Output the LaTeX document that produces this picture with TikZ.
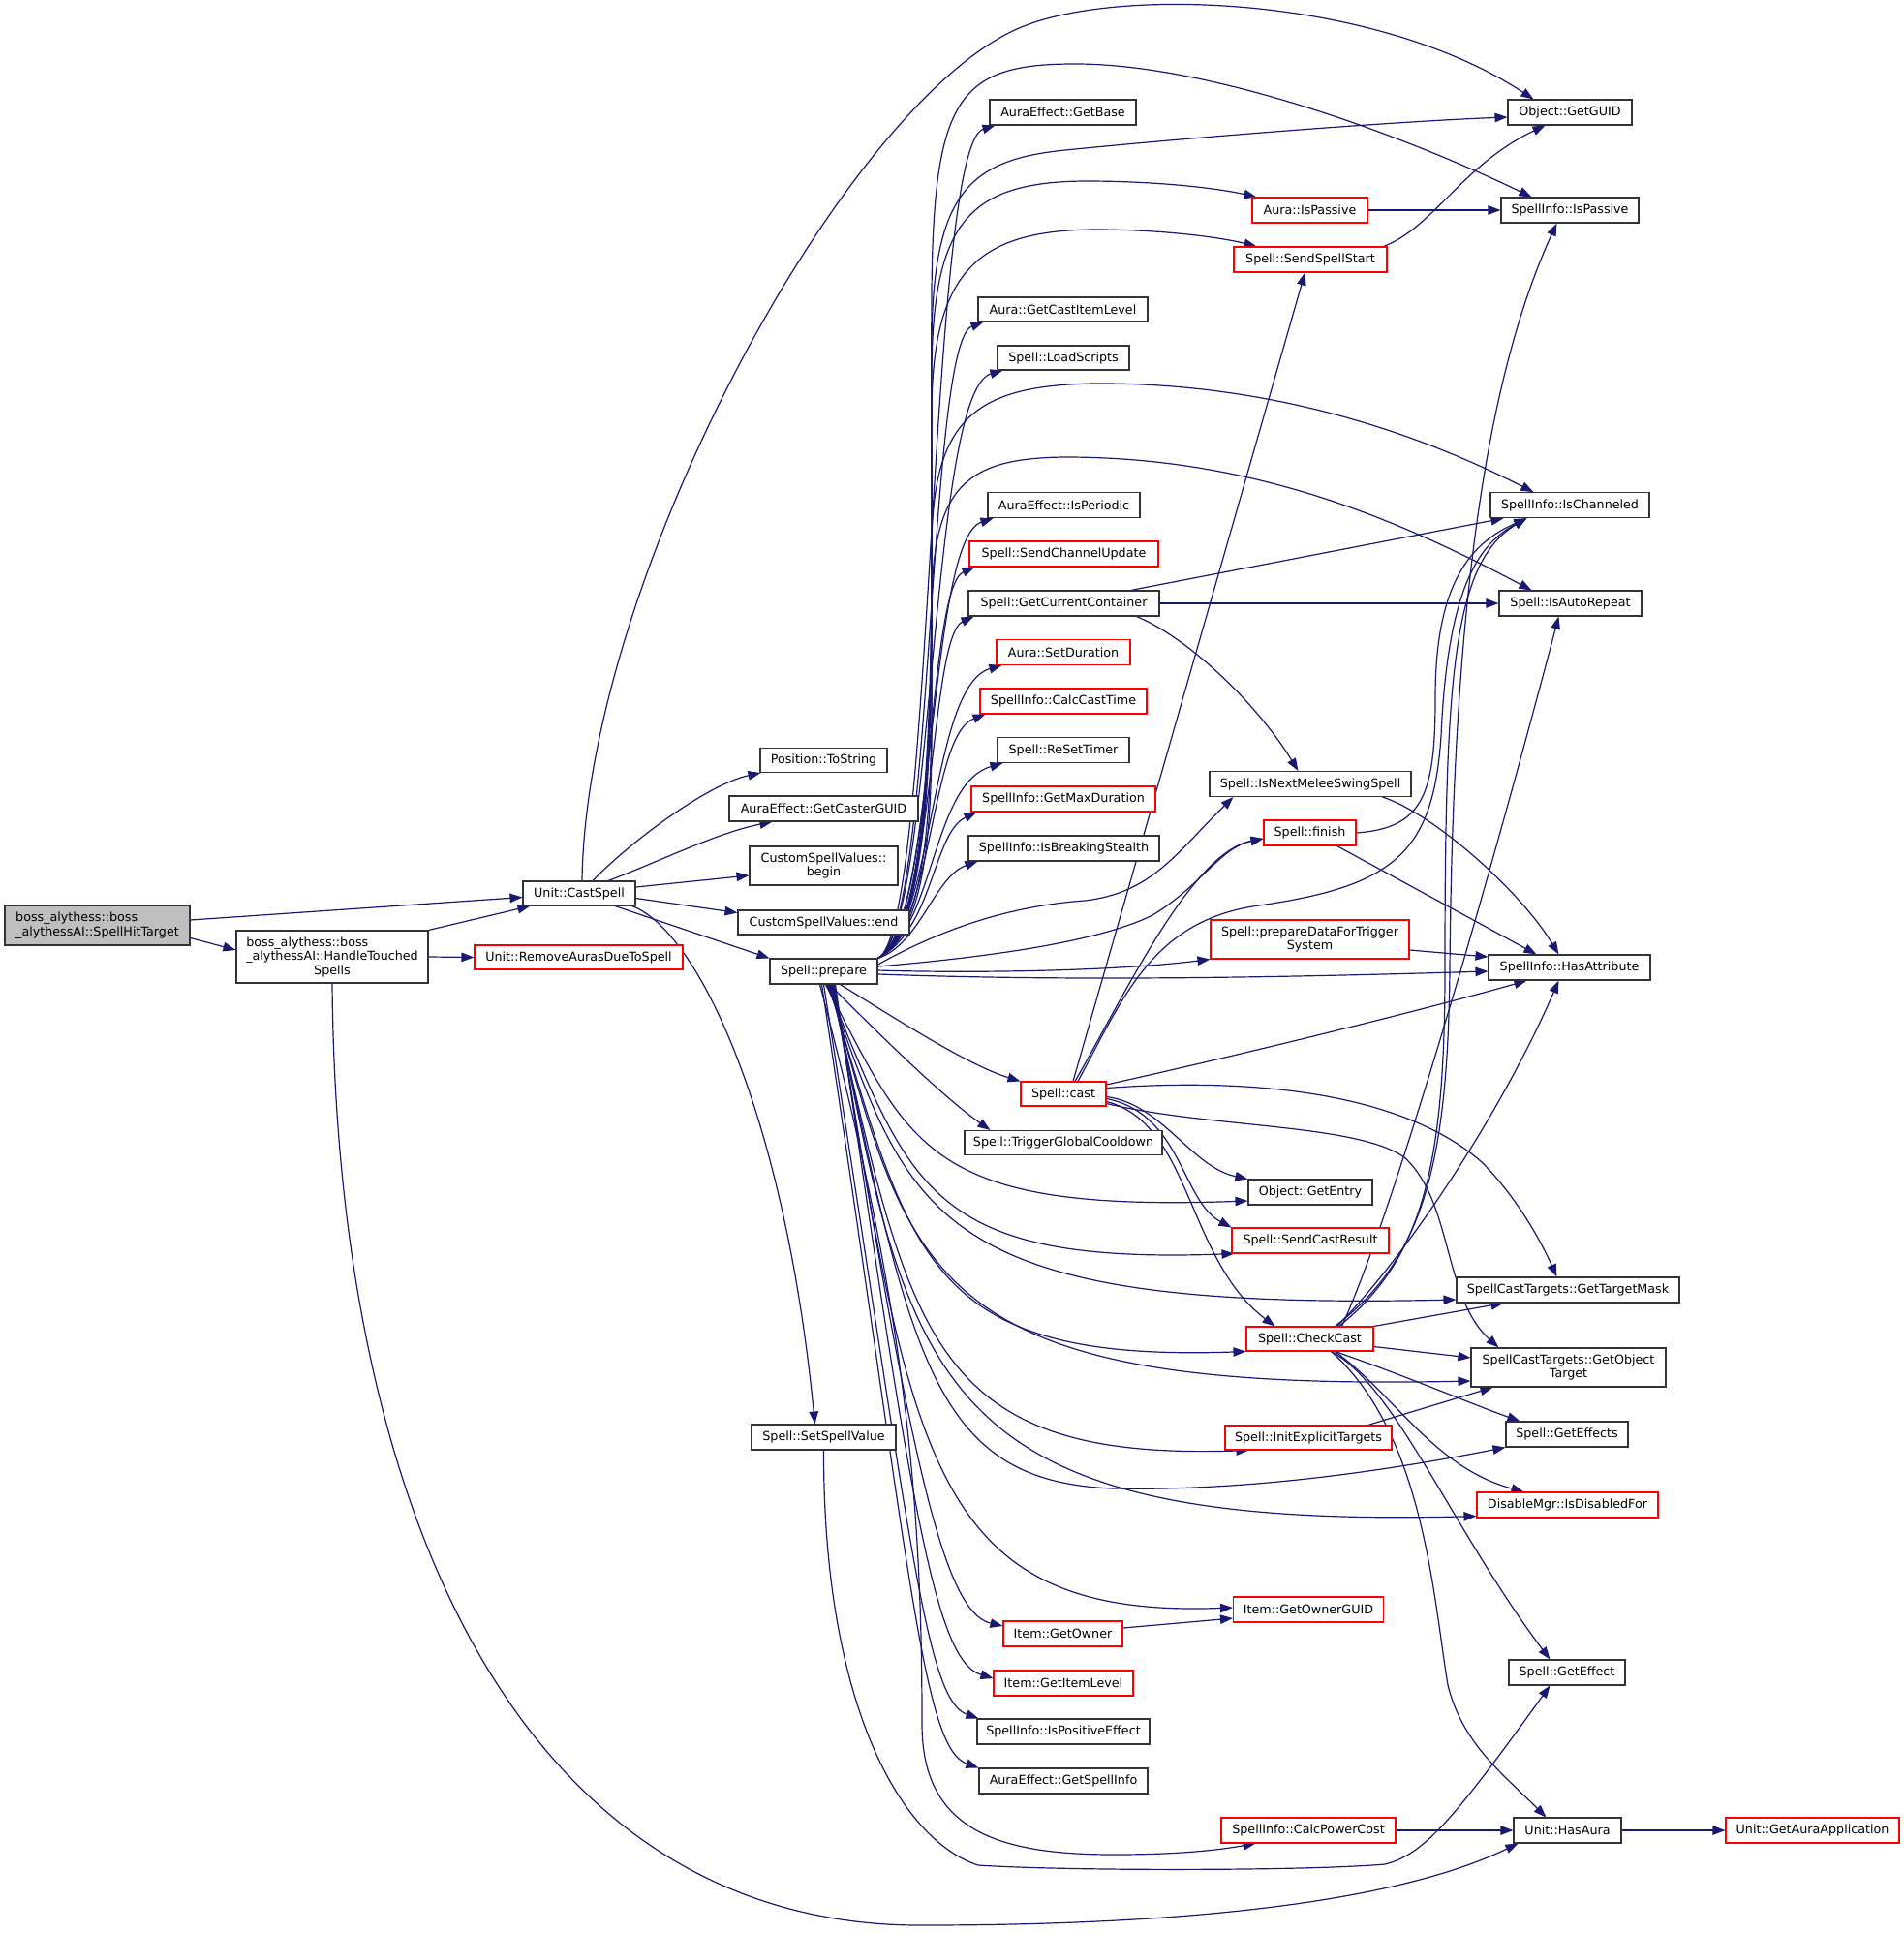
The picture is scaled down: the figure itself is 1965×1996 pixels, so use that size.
\documentclass[tikz,border=0pt]{standalone}
\usepackage{fontspec}
\setmainfont{DejaVu Sans}
\usetikzlibrary{arrows.meta}
\definecolor{edgec}{HTML}{191970}
\definecolor{nodeb}{HTML}{333333}
\definecolor{redb}{HTML}{FF0000}
\definecolor{rootf}{HTML}{BFBFBF}
\pgfdeclarelayer{bgl}
\pgfdeclarelayer{edges}
\pgfsetlayers{bgl,edges,main}
\begin{document}
\begin{tikzpicture}[x=1pt,y=-1pt,
  box/.style={draw=nodeb, line width=1.1pt, fill=white, inner sep=0pt, align=center,
    font=\fontsize{12.7pt}{14.5pt}\selectfont},
  rbox/.style={box, draw=redb},
  edg/.style={draw=edgec, line width=1.2pt, -{Triangle[length=13pt,width=9.5pt]}}
]
\useasboundingbox (0,0) rectangle (1965,1996);
\begin{pgfonlayer}{bgl}
\fill[white] (0,0) rectangle (1965,1996);
\end{pgfonlayer}

% ---- nodes ----
\node[box, fill=rootf, minimum width=191pt, minimum height=41pt] (hit) at (100.5,955.5)
  {\rlap{boss\_alythess::boss}\phantom{\_alythessAI::SpellHitTarget}\\\_alythessAI::SpellHitTarget};
\node[box, minimum width=198pt, minimum height=54pt] (handle) at (343,988)
  {\rlap{boss\_alythess::boss}\phantom{\_alythessAI::HandleTouched}\\\_alythessAI::HandleTouched\\Spells};
\node[box, minimum width=116pt, minimum height=25pt] (cast) at (598,922.5) {Unit::CastSpell};
\node[rbox, minimum width=215pt, minimum height=25pt] (remove) at (597.5,988.5) {Unit::RemoveAurasDueToSpell};
\node[box, minimum width=131pt, minimum height=25pt] (tostring) at (850.5,785) {Position::ToString};
\node[box, minimum width=195pt, minimum height=26pt] (castguid) at (850.5,835) {AuraEffect::GetCasterGUID};
\node[box, minimum width=153pt, minimum height=40pt] (begin) at (850.5,894) {CustomSpellValues::\\begin};
\node[box, minimum width=177pt, minimum height=25pt] (endv) at (850.5,952.5) {CustomSpellValues::end};
\node[box, minimum width=111pt, minimum height=26pt] (prep) at (850.5,1003) {Spell::prepare};
\node[box, minimum width=149pt, minimum height=26pt] (setvalue) at (850.5,1484) {Spell::SetSpellValue};

\node[box, minimum width=151pt, minimum height=26pt] (getbase) at (1097.5,116) {AuraEffect::GetBase};
\node[rbox, minimum width=119pt, minimum height=26pt] (aurapassive) at (1352.5,217) {Aura::IsPassive};
\node[rbox, minimum width=158pt, minimum height=26pt] (sendstart) at (1353,268) {Spell::SendSpellStart};
\node[box, minimum width=175pt, minimum height=25pt] (castitemlevel) at (1097.5,319.5) {Aura::GetCastItemLevel};
\node[box, minimum width=136pt, minimum height=25pt] (loadscripts) at (1098,369.5) {Spell::LoadScripts};
\node[box, minimum width=157pt, minimum height=26pt] (isperiodic) at (1098.5,521.7) {AuraEffect::IsPeriodic};
\node[rbox, minimum width=195pt, minimum height=26pt] (chanupdate) at (1098.5,572) {Spell::SendChannelUpdate};
\node[box, minimum width=197pt, minimum height=26pt] (curcont) at (1098.5,623) {Spell::GetCurrentContainer};
\node[rbox, minimum width=138pt, minimum height=26pt] (setdur) at (1098,673.5) {Aura::SetDuration};
\node[rbox, minimum width=172pt, minimum height=26pt] (calccast) at (1098,724) {SpellInfo::CalcCastTime};
\node[box, minimum width=136pt, minimum height=26pt] (resettimer) at (1098,774.5) {Spell::ReSetTimer};
\node[rbox, minimum width=190pt, minimum height=26pt] (maxdur) at (1098,825) {SpellInfo::GetMaxDuration};
\node[box, minimum width=197pt, minimum height=26pt] (breakstealth) at (1098.5,876) {SpellInfo::IsBreakingStealth};
\node[box, minimum width=208pt, minimum height=26pt] (nextmelee) at (1353,809.5) {Spell::IsNextMeleeSwingSpell};
\node[rbox, minimum width=95pt, minimum height=26pt] (finish) at (1352.5,860) {Spell::finish};
\node[rbox, minimum width=205pt, minimum height=40pt] (pdft) at (1352.5,970) {Spell::prepareDataForTrigger\\System};
\node[rbox, minimum width=88pt, minimum height=25pt] (scast) at (1098,1129.5) {Spell::cast};
\node[box, minimum width=204pt, minimum height=25pt] (tgc) at (1098,1180) {Spell::TriggerGlobalCooldown};
\node[box, minimum width=128pt, minimum height=26pt] (getentry) at (1353,1231) {Object::GetEntry};
\node[rbox, minimum width=162pt, minimum height=26pt] (sendresult) at (1353,1281) {Spell::SendCastResult};
\node[rbox, minimum width=131pt, minimum height=25pt] (checkcast) at (1352.5,1382.5) {Spell::CheckCast};
\node[rbox, minimum width=172pt, minimum height=25pt] (initexp) at (1351,1484.5) {Spell::InitExplicitTargets};
\node[rbox, minimum width=155pt, minimum height=26pt] (ownerguid) at (1351,1662) {Item::GetOwnerGUID};
\node[rbox, minimum width=123pt, minimum height=26pt] (getowner) at (1097.5,1687) {Item::GetOwner};
\node[rbox, minimum width=144pt, minimum height=26pt] (itemlevel) at (1098,1738) {Item::GetItemLevel};
\node[box, minimum width=178pt, minimum height=26pt] (poseffect) at (1098,1788) {SpellInfo::IsPositiveEffect};
\node[box, minimum width=174pt, minimum height=26pt] (getspellinfo) at (1098,1839) {AuraEffect::GetSpellInfo};
\node[rbox, minimum width=180pt, minimum height=26pt] (calcpower) at (1351,1890) {SpellInfo::CalcPowerCost};

\node[box, minimum width=128pt, minimum height=26pt] (getguid) at (1621,116) {Object::GetGUID};
\node[box, minimum width=142pt, minimum height=26pt] (spassive) at (1621,217) {SpellInfo::IsPassive};
\node[box, minimum width=164pt, minimum height=26pt] (ischan) at (1621,521.7) {SpellInfo::IsChanneled};
\node[box, minimum width=147pt, minimum height=26pt] (autorep) at (1621.5,623) {Spell::IsAutoRepeat};
\node[box, minimum width=167pt, minimum height=26pt] (hasattr) at (1620.5,999) {SpellInfo::HasAttribute};
\node[box, minimum width=230pt, minimum height=26pt] (tmask) at (1619,1332) {SpellCastTargets::GetTargetMask};
\node[box, minimum width=201pt, minimum height=40pt] (objtarget) at (1619.5,1412) {SpellCastTargets::GetObject\\Target};
\node[box, minimum width=126pt, minimum height=26pt] (geteffects) at (1618,1481) {Spell::GetEffects};
\node[rbox, minimum width=187pt, minimum height=26pt] (disabled) at (1618.5,1554) {DisableMgr::IsDisabledFor};
\node[box, minimum width=120pt, minimum height=26pt] (geteffect) at (1618,1727) {Spell::GetEffect};
\node[box, minimum width=111pt, minimum height=26pt] (hasaura) at (1618.5,1890) {Unit::HasAura};
\node[rbox, minimum width=179pt, minimum height=26pt] (auraapp) at (1871.5,1890) {Unit::GetAuraApplication};

% ---- edges ----
\begin{pgfonlayer}{edges}
% root and left
\draw[edg] ([yshift=5.5pt]hit.east) -- ([yshift=-4pt]cast.west);
\draw[edg] ([yshift=-13pt]hit.east) -- ([yshift=7pt]handle.west);
\draw[edg] (handle.north east) -- ([xshift=8pt]cast.south west);
\draw[edg] (handle.east) -- (remove.west);
\draw[edg] (handle.south) .. controls (348,1600) and (560,1988) .. (950,1988)
  .. controls (1250,1988) and (1450,1960) .. ([xshift=5pt]hasaura.south west);

% Unit::CastSpell
\draw[edg] ([xshift=3pt]cast.north) .. controls (605,600) and (870,110) .. (1050,30)
  .. controls (1150,-15) and (1420,-5) .. ([xshift=27pt]getguid.north west);
\draw[edg] ([xshift=14pt]cast.north) .. controls (650,870) and (730,810) .. ([xshift=1pt]tostring.south west);
\draw[edg] ([xshift=30pt]cast.north) .. controls (680,890) and (740,860) .. ([xshift=45pt]castguid.south west);
\draw[edg] ([yshift=6.5pt]cast.east) -- ([yshift=-10pt]begin.west);
\draw[edg] ([yshift=-5pt]cast.east) -- ([yshift=10pt]endv.west);
\draw[edg] ([xshift=37pt]cast.south) -- (prep.north west);
\draw[edg] ([xshift=-4pt]cast.south east) .. controls (720,960) and (810,1150) .. ([xshift=66pt]setvalue.north west);
\draw[edg] (setvalue.south) .. controls (850,1760) and (930,1900) .. (1010,1926)
  .. controls (1100,1932) and (1350,1932) .. (1430,1925)
  .. controls (1470,1915) and (1500,1880) .. ([xshift=43pt]geteffect.south west);

% Spell::prepare: upper fan to column 2
\draw[edg] (prep.north east) .. controls (965,960) and (958,151) .. ([xshift=6pt]getbase.south west);
\draw[edg] (prep.north east) .. controls (965,960) and (957,354) .. ([xshift=6pt]castitemlevel.south west);
\draw[edg] (prep.north east) .. controls (965,960) and (959,404) .. ([xshift=6pt]loadscripts.south west);
\draw[edg] (prep.north east) .. controls (966,960) and (958,557) .. ([xshift=6pt]isperiodic.south west);
\draw[edg] (prep.north east) .. controls (964,960) and (957,607) .. ([xshift=6pt]chanupdate.south west);
\draw[edg] (prep.north east) .. controls (966,960) and (959,658) .. ([xshift=6pt]curcont.south west);
\draw[edg] (prep.north east) .. controls (965,960) and (960,708) .. ([xshift=6pt]setdur.south west);
\draw[edg] (prep.north east) .. controls (964,960) and (960,759) .. ([xshift=6pt]calccast.south west);
\draw[edg] (prep.north east) .. controls (965,960) and (962,809) .. ([xshift=6pt]resettimer.south west);
\draw[edg] (prep.north east) .. controls (964,960) and (963,860) .. ([xshift=6pt]maxdur.south west);
\draw[edg] (prep.north east) .. controls (950,975) and (965,905) .. ([xshift=10pt]breakstealth.south west);

% Spell::prepare: top arcs
\draw[edg] (prep.north east) .. controls (975,950) and (960,576) .. (962,300)
  .. controls (964,100) and (990,66) .. (1110,66)
  .. controls (1250,66) and (1450,140) .. ([xshift=32pt]spassive.north west);
\draw[edg] (prep.north east) .. controls (975,950) and (960,606) .. (962,350)
  .. controls (964,200) and (1000,165) .. (1100,155)
  .. controls (1250,140) and (1450,125) .. ([yshift=-5pt]getguid.west);
\draw[edg] (prep.north east) .. controls (975,950) and (960,624) .. (962,380)
  .. controls (964,230) and (1000,188) .. (1120,187)
  .. controls (1200,187) and (1260,195) .. ([xshift=5pt]aurapassive.north west);
\draw[edg] (prep.north east) .. controls (975,950) and (960,648) .. (962,420)
  .. controls (964,280) and (1010,238) .. (1130,237)
  .. controls (1200,237) and (1260,245) .. ([xshift=24pt]sendstart.north west);
\draw[edg] (prep.north east) .. controls (975,950) and (960,732) .. (962,560)
  .. controls (964,430) and (1010,398) .. (1130,396)
  .. controls (1300,395) and (1450,440) .. ([xshift=45pt]ischan.north west);
\draw[edg] (prep.north east) .. controls (975,950) and (960,768) .. (962,620)
  .. controls (964,500) and (1000,473) .. (1100,472)
  .. controls (1300,472) and (1450,540) .. ([xshift=34pt]autorep.north west);

% Spell::prepare: rightwards
\draw[edg] ([yshift=7pt]prep.east) .. controls (980,955) and (1050,935) .. (1120,930)
  .. controls (1190,922) and (1215,880) .. ([xshift=25pt]nextmelee.south west);
\draw[edg] ([yshift=5pt]prep.east) .. controls (1000,990) and (1130,975) .. (1190,945)
  .. controls (1240,915) and (1260,875) .. ([yshift=-6pt]finish.west);
\draw[edg] ([yshift=1pt]prep.east) .. controls (1000,1005) and (1150,1003) .. (pdft.south west);
\draw[edg] ([yshift=-3pt]prep.east) .. controls (1100,1013) and (1300,1010) .. ([yshift=-4pt]hasattr.west);
\draw[edg] ([xshift=17pt]prep.south) .. controls (930,1055) and (1000,1100) .. (scast.north west);
\draw[edg] ([xshift=6pt]prep.south) .. controls (900,1060) and (970,1130) .. ([xshift=27pt]tgc.north west);

% Spell::prepare: lower fan
\draw[edg] ([xshift=2pt]prep.south) .. controls (940,1184) and (955,1252) .. ([yshift=-9pt]getentry.west);
\draw[edg] ([xshift=3pt]prep.south) .. controls (940,1224) and (955,1306) .. ([xshift=3pt]sendresult.south west);
\draw[edg] ([xshift=4pt]prep.south) .. controls (940,1260) and (960,1354) .. ([yshift=-10pt]tmask.west);
\draw[edg] ([xshift=5pt]prep.south) .. controls (940,1300) and (955,1407) .. (checkcast.south west);
\draw[edg] ([xshift=6pt]prep.south) .. controls (940,1323) and (955,1438) .. ([yshift=-14pt]objtarget.west);
\draw[edg] ([xshift=7pt]prep.south) .. controls (940,1377) and (955,1509) .. ([xshift=25pt]initexp.south west);
\draw[edg] ([xshift=8pt]prep.south) .. controls (940,1400) and (960,1530) .. (1150,1537)
  .. controls (1300,1540) and (1450,1515) .. (geteffects.south west);
\draw[edg] ([xshift=9pt]prep.south) .. controls (940,1428) and (955,1580) .. ([yshift=2pt]disabled.south west);
\draw[edg] ([xshift=10pt]prep.south) .. controls (940,1499) and (955,1672) .. ([yshift=2pt]ownerguid.west);
\draw[edg] ([xshift=11pt]prep.south) .. controls (940,1516) and (975,1665) .. ([yshift=8pt]getowner.west);
\draw[edg] ([xshift=12pt]prep.south) .. controls (940,1554) and (965,1715) .. ([yshift=5pt]itemlevel.west);
\draw[edg] ([xshift=0pt]prep.south) .. controls (940,1585) and (955,1755) .. ([xshift=2pt]poseffect.north west);
\draw[edg] ([xshift=-2pt]prep.south) .. controls (940,1620) and (952,1805) .. (getspellinfo.north west);
\draw[edg] ([xshift=-4pt]prep.south) .. controls (935,1350) and (952,1550) .. (952,1780)
  .. controls (952,1890) and (1030,1915) .. (1150,1915)
  .. controls (1220,1915) and (1260,1910) .. ([xshift=36pt]calcpower.south west);

% Spell::cast
\draw[edg] ([xshift=10pt]scast.north) -- ([xshift=74pt]sendstart.south west);
\draw[edg] ([xshift=12pt]scast.north) .. controls (1160,1030) and (1230,880) .. ([yshift=-6pt]finish.west);
\draw[edg] ([xshift=15pt]scast.north) .. controls (1160,1030) and (1190,950) .. (1300,935)
  .. controls (1440,915) and (1480,880) .. (1488,760)
  .. controls (1495,600) and (1530,560) .. ([xshift=38pt]ischan.south west);
\draw[edg] ([yshift=9.5pt]scast.east) .. controls (1300,1085) and (1480,1040) .. ([xshift=40pt]hasattr.south west);
\draw[edg] ([yshift=6pt]scast.east) .. controls (1300,1112) and (1450,1130) .. (1530,1200)
  .. controls (1570,1240) and (1595,1290) .. ([xshift=104pt]tmask.north west);
\draw[edg] ([yshift=-10pt]scast.east) .. controls (1250,1165) and (1400,1160) .. (1450,1195)
  .. controls (1500,1240) and (1490,1340) .. ([xshift=29pt]objtarget.north west);
\draw[edg] ([yshift=-3pt]scast.east) .. controls (1200,1140) and (1230,1205) .. (getentry.north west);
\draw[edg] ([yshift=-5pt]scast.east) .. controls (1220,1150) and (1220,1240) .. (sendresult.north west);
\draw[edg] ([yshift=-8pt]scast.east) .. controls (1230,1160) and (1225,1300) .. ([xshift=30pt]checkcast.north west);

% Spell::CheckCast
\draw[edg] ([xshift=26pt]checkcast.north) .. controls (1470,1300) and (1495,1200) .. (1497,1000)
  .. controls (1500,650) and (1530,400) .. ([xshift=58pt]spassive.south west);
\draw[edg] ([xshift=30pt]checkcast.north) .. controls (1470,1300) and (1492,1200) .. (1492,1000)
  .. controls (1492,700) and (1500,580) .. ([xshift=38pt]ischan.south west);
\draw[edg] ([xshift=33pt]checkcast.north) .. controls (1440,1250) and (1540,900) .. ([xshift=62pt]autorep.south west);
\draw[edg] ([xshift=28pt]checkcast.north) .. controls (1450,1300) and (1550,1150) .. ([xshift=73pt]hasattr.south west);
\draw[edg] (checkcast.north east) -- ([xshift=49pt]tmask.south west);
\draw[edg] ([yshift=-8pt]checkcast.east) -- ([yshift=10pt]objtarget.west);
\draw[edg] ([xshift=26pt]checkcast.south) .. controls (1450,1420) and (1520,1450) .. ([xshift=15pt]geteffects.north west);
\draw[edg] ([xshift=26pt]checkcast.south) .. controls (1440,1440) and (1480,1515) .. ([xshift=49pt]disabled.north west);
\draw[edg] ([xshift=22pt]checkcast.south) .. controls (1440,1430) and (1500,1580) .. ([xshift=43pt]geteffect.north west);
\draw[edg] ([xshift=22pt]checkcast.south) .. controls (1470,1480) and (1480,1650) .. (1495,1740)
  .. controls (1510,1800) and (1550,1830) .. ([xshift=34pt]hasaura.north west);

% others
\draw[edg] ([xshift=-30pt]curcont.north east) -- ([xshift=14pt]ischan.south west);
\draw[edg] (curcont.east) -- (autorep.west);
\draw[edg] ([xshift=-24pt]curcont.south east) .. controls (1230,660) and (1300,730) .. ([xshift=92pt]nextmelee.north west);
\draw[edg] ([xshift=-30pt]nextmelee.south east) .. controls (1480,840) and (1570,920) .. ([xshift=73pt]hasattr.north west);
\draw[edg] (finish.east) .. controls (1470,855) and (1482,820) .. (1482,720)
  .. controls (1482,600) and (1520,560) .. ([xshift=38pt]ischan.south west);
\draw[edg] ([xshift=-20pt]finish.south east) -- ([xshift=50pt]hasattr.north west);
\draw[edg] ([yshift=-11pt]pdft.east) -- ([yshift=11pt]hasattr.west);
\draw[edg] (aurapassive.east) -- (spassive.west);
\draw[edg] ([xshift=-4pt]sendstart.north east) .. controls (1480,235) and (1510,170) .. ([xshift=39pt]getguid.south west);
\draw[edg] ([xshift=-25pt]initexp.north east) -- ([xshift=23pt]objtarget.south west);
\draw[edg] ([yshift=6pt]getowner.east) -- ([yshift=-9pt]ownerguid.west);
\draw[edg] (calcpower.east) -- (hasaura.west);
\draw[edg] (hasaura.east) -- (auraapp.west);
\end{pgfonlayer}
\end{tikzpicture}
\end{document}
